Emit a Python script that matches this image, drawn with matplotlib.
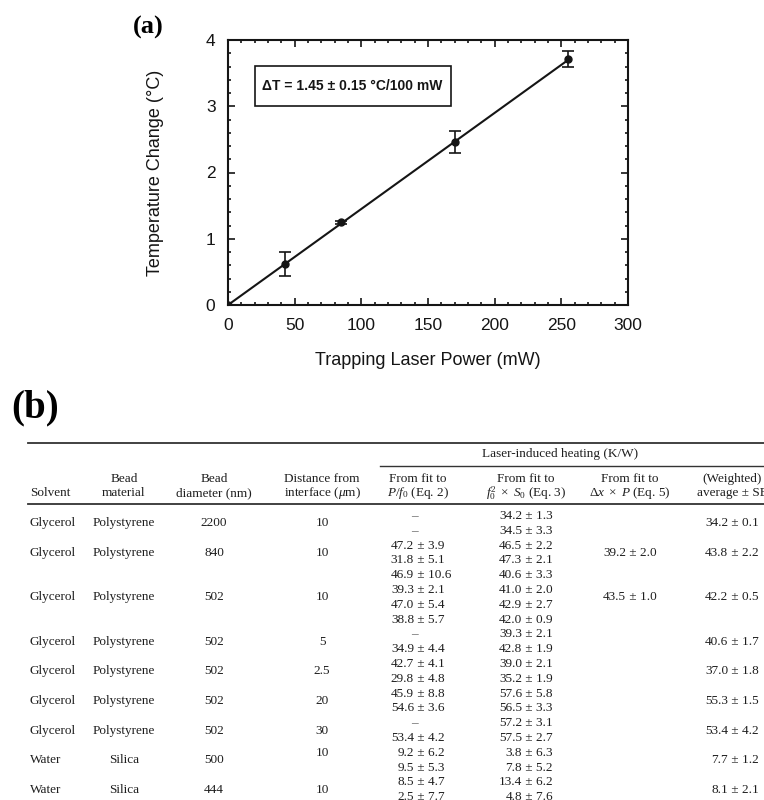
import matplotlib
matplotlib.use('Agg')
import matplotlib.pyplot as plt
import numpy as np
from matplotlib.patches import Rectangle
from matplotlib.ticker import MultipleLocator

plt.rcParams['mathtext.fontset'] = 'custom'
plt.rcParams['mathtext.rm'] = 'Liberation Serif'
plt.rcParams['mathtext.it'] = 'Liberation Serif:italic'
plt.rcParams['mathtext.bf'] = 'Liberation Serif:bold'

# ---- panel (a) data ----
power = [0, 42.5, 85, 170, 255]          # mW
temp_change = [0, 0.62, 1.25, 2.46, 3.71]  # deg C
temp_err = [0, 0.18, 0.02, 0.16, 0.125]
slope = 1.45 / 100                        # deg C per mW
fit_label = 'ΔT = 1.45 ± 0.15 °C/100 mW'

# ---- panel (b) table data ----
solvent = ['Glycerol'] * 7 + ['Water'] * 2
material = ['Polystyrene'] * 7 + ['Silica'] * 2
diameter = ['2200', '840', '502', '502', '502', '502', '502', '500', '444']
distance = ['10', '10', '10', '5', '2.5', '20', '30', '10', '10']
fit_pf0 = [['–', '–'],
           ['47.2 ± 3.9', '31.8 ± 5.1'],
           ['46.9 ± 10.6', '39.3 ± 2.1', '47.0 ± 5.4', '38.8 ± 5.7'],
           ['–', '34.9 ± 4.4'],
           ['42.7 ± 4.1', '29.8 ± 4.8'],
           ['45.9 ± 8.8', '54.6 ± 3.6'],
           ['–', '53.4 ± 4.2'],
           ['9.2 ± 6.2', '9.5 ± 5.3'],
           ['8.5 ± 4.7', '2.5 ± 7.7']]
fit_f0s0 = [['34.2 ± 1.3', '34.5 ± 3.3'],
            ['46.5 ± 2.2', '47.3 ± 2.1'],
            ['40.6 ± 3.3', '41.0 ± 2.0', '42.9 ± 2.7', '42.0 ± 0.9'],
            ['39.3 ± 2.1', '42.8 ± 1.9'],
            ['39.0 ± 2.1', '35.2 ± 1.9'],
            ['57.6 ± 5.8', '56.5 ± 3.3'],
            ['57.2 ± 3.1', '57.5 ± 2.7'],
            ['3.8 ± 6.3', '7.8 ± 5.2'],
            ['13.4 ± 6.2', '4.8 ± 7.6']]
fit_dxp = ['', '39.2 ± 2.0', '43.5 ± 1.0', '', '', '', '', '', '']
weighted = ['34.2 ± 0.1', '43.8 ± 2.2', '42.2 ± 0.5', '40.6 ± 1.7', '37.0 ± 1.8',
            '55.3 ± 1.5', '53.4 ± 4.2', '7.7 ± 1.2', '8.1 ± 2.1']
header_top = ['', 'Bead', 'Bead', 'Distance from', 'From fit to', 'From fit to',
              'From fit to', '(Weighted)']
header_bot = ['Solvent', 'material', 'diameter (nm)', r'interface ($\mu$m)',
              r'$P/f_0$ (Eq. 2)', r'$f_0^2\ \times\ S_0$ (Eq. 3)',
              r'$\Delta x\ \times\ P$ (Eq. 5)', 'average ± SE']
group_header = 'Laser-induced heating (K/W)'

W, H = 764, 800
fig = plt.figure(figsize=(W / 100, H / 100), dpi=100)

# ---------------- panel (a) ----------------
ax = fig.add_axes([228 / W, 1 - 305 / H, 400 / W, 265 / H])
sans = 'Liberation Sans'
dark = '#151515'

fx = np.array([0, max(power)])
ax.plot(fx, slope * fx, color=dark, lw=1.5, zorder=2)
ax.errorbar(power, temp_change, yerr=temp_err, fmt='o', color=dark, ms=5,
            elinewidth=1.2, capsize=4, capthick=1.2, zorder=3)

rect = Rectangle((20, 3.01), 147, 0.6, fill=False, ec=dark, lw=1.2, zorder=4)
ax.add_patch(rect)
ax.text(93, 3.30, fit_label, ha='center', va='center', fontsize=10,
        fontweight='bold', family=sans, color=dark)

ax.set_xlim(0, 300)
ax.set_ylim(0, 4)
ax.xaxis.set_major_locator(MultipleLocator(50))
ax.xaxis.set_minor_locator(MultipleLocator(10))
ax.yaxis.set_major_locator(MultipleLocator(1))
ax.yaxis.set_minor_locator(MultipleLocator(0.2))
ax.tick_params(which='both', direction='in', top=True, right=True, width=1.2,
               color=dark)
ax.tick_params(which='major', length=5, labelsize=12.5, labelcolor=dark, pad=9)
ax.tick_params(which='minor', length=2.5)
for lab in ax.get_xticklabels() + ax.get_yticklabels():
    lab.set_family(sans)
for sp in ax.spines.values():
    sp.set_linewidth(1.5)
    sp.set_color(dark)
ax.set_xlabel('Trapping Laser Power (mW)', fontsize=13, family=sans,
              color=dark, labelpad=14)
ax.set_ylabel('Temperature Change (°C)', fontsize=13, family=sans,
              color=dark, labelpad=30)

# ---------------- panel labels + table ----------------
tab = fig.add_axes([0, 0, 1, 1])
tab.set_xlim(0, W)
tab.set_ylim(H, 0)
tab.axis('off')
tab.patch.set_alpha(0)

serif = 'Liberation Serif'
tcol = '#1e1e1e'
fs = 9.5

tab.text(148, 27, '(a)', ha='center', va='center', fontsize=19,
         fontweight='bold', family=serif, color='black')
tab.text(35, 408, '(b)', ha='center', va='center', fontsize=28,
         fontweight='bold', family=serif, color='black')

# rules
tab.plot([28, W], [443, 443], color='#333333', lw=1.3)
tab.plot([380, W], [466, 466], color='#333333', lw=1.0)
tab.plot([28, W], [504, 504], color='#333333', lw=1.3)

col_x = [30, 124, 214, 322, 418, 526, 630, 732]
tab.text(560, 454, group_header, ha='center', va='center', fontsize=fs,
         family=serif, color=tcol)
for i, (t, b) in enumerate(zip(header_top, header_bot)):
    ha = 'left' if i == 0 else 'center'
    if t:
        tab.text(col_x[i], 479, t, ha=ha, va='center', fontsize=fs,
                 family=serif, color=tcol)
    tab.text(col_x[i], 493, b, ha=ha, va='center', fontsize=fs,
             family=serif, color=tcol)


def put_value(x, y, s):
    # values are aligned on the plus-minus sign
    if ' ± ' not in s:
        if s:
            tab.text(x, y, s, ha='center', va='center', fontsize=fs,
                     family=serif, color='#555555')
        return
    left, right = s.split(' ± ')
    tab.text(x, y, left, ha='right', va='center', fontsize=fs, family=serif,
             color=tcol)
    tab.text(x, y, ' ± ' + right, ha='left', va='center', fontsize=fs,
             family=serif, color=tcol)


y0, dy = 516, 14.8
k = 0
for g in range(len(solvent)):
    n = len(fit_pf0[g])
    ys = [y0 + dy * (k + j) for j in range(n)]
    yc = np.mean(ys)
    tab.text(col_x[0], yc, solvent[g], ha='left', va='center', fontsize=fs,
             family=serif, color=tcol)
    tab.text(col_x[1], yc, material[g], ha='center', va='center', fontsize=fs,
             family=serif, color=tcol)
    tab.text(col_x[2], yc, diameter[g], ha='center', va='center', fontsize=fs,
             family=serif, color=tcol)
    yd = ys[0] if solvent[g] == 'Water' and diameter[g] == '500' else yc
    tab.text(col_x[3], yd, distance[g], ha='center', va='center', fontsize=fs,
             family=serif, color=tcol)
    for j in range(n):
        put_value(col_x[4] - 4, ys[j], fit_pf0[g][j])
        put_value(col_x[5] - 4, ys[j], fit_f0s0[g][j])
    put_value(col_x[6] - 4, yc, fit_dxp[g])
    put_value(col_x[7] - 4, yc, weighted[g])
    k += n

fig.savefig('out.png', dpi=100)
